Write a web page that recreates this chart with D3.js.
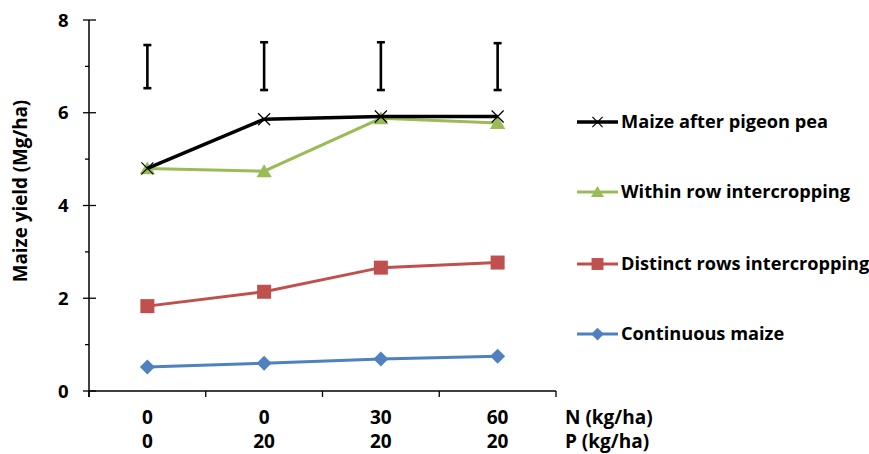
<!DOCTYPE html>
<html><head><meta charset="utf-8">
<script src="https://cdn.jsdelivr.net/npm/d3@7"></script>
<style>body{margin:0;background:#fff}svg{display:block}text{font-family:"Open Sans",sans-serif;font-weight:bold;fill:#000}</style>
</head><body><svg id="c" width="869" height="454"></svg>
<script>
const categories = ["0|0","0|20","30|20","60|20"];
const nLabels = ["0","0","30","60"];
const pLabels = ["0","20","20","20"];
const seriesNames = ["Maize after pigeon pea","Within row intercropping","Distinct rows intercropping","Continuous maize"];
const pigeonPea = [4.8, 5.86, 5.92, 5.92];
const withinRow = [4.8, 4.74, 5.88, 5.78];
const distinctRows = [1.83, 2.14, 2.66, 2.77];
const continuous = [0.52, 0.6, 0.69, 0.75];
const errLow = [6.53, 6.49, 6.49, 6.49];
const errHigh = [7.46, 7.52, 7.52, 7.5];
const yTicks = [0,2,4,6,8];

const colors = ["#000000","#9BBB59","#C0504D","#4F81BD"];
const seriesVals = [pigeonPea, withinRow, distinctRows, continuous];

const svg = d3.select("#c");
const x0 = 89, x1 = 556, yTop = 20, yBot = 391;
const x = d3.scaleBand().domain(categories).range([x0, x1]);
const y = d3.scaleLinear().domain([0,8]).range([yBot, yTop]);
const cx = c => x(c) + x.bandwidth()/2;

// Y axis
const yAx = svg.append("g");
yAx.append("line").attr("x1",x0).attr("x2",x0).attr("y1",yTop).attr("y2",yBot+6).attr("stroke","#000").attr("stroke-width",1.5);
yAx.selectAll(".maj").data(yTicks).join("line").attr("x1",x0-6).attr("x2",x0+7).attr("y1",d=>y(d)).attr("y2",d=>y(d)).attr("stroke","#000").attr("stroke-width",1.3);
yAx.selectAll(".min").data([1,3,5,7]).join("line").attr("x1",x0-4).attr("x2",x0).attr("y1",d=>y(d)).attr("y2",d=>y(d)).attr("stroke","#000").attr("stroke-width",1.3);
yAx.selectAll("text").data(yTicks).join("text").attr("x",68.5).attr("y",d=>y(d)).attr("dy","0.36em").attr("text-anchor","end").attr("font-size",18.5).text(d=>d);
svg.append("text").attr("transform",`translate(27,191) rotate(-90)`).attr("text-anchor","middle").attr("font-size",18.8).text("Maize yield (Mg/ha)");

// X axis
svg.append("line").attr("x1",x0).attr("x2",x1).attr("y1",yBot).attr("y2",yBot).attr("stroke","#000").attr("stroke-width",1.5);
const bounds = categories.map(c=>x(c)).concat([x1]);
svg.selectAll(".xt").data(bounds).join("line").attr("x1",d=>d).attr("x2",d=>d).attr("y1",yBot).attr("y2",yBot+6).attr("stroke","#000").attr("stroke-width",1.3);
svg.selectAll(".nl").data(categories).join("text").attr("x",d=>cx(d)).attr("y",424).attr("text-anchor","middle").attr("font-size",19).text((d,i)=>nLabels[i]);
svg.selectAll(".pl").data(categories).join("text").attr("x",d=>cx(d)).attr("y",448).attr("text-anchor","middle").attr("font-size",19).text((d,i)=>pLabels[i]);
svg.append("text").attr("x",565).attr("y",424).attr("font-size",19).text("N (kg/ha)");
svg.append("text").attr("x",565).attr("y",448).attr("font-size",19).text("P (kg/ha)");

// Error bars
const eb = svg.append("g").attr("stroke","#000").attr("stroke-width",2.6);
categories.forEach((c,i)=>{
  eb.append("line").attr("x1",cx(c)).attr("x2",cx(c)).attr("y1",y(errLow[i])).attr("y2",y(errHigh[i]));
  [errLow[i],errHigh[i]].forEach(v=>eb.append("line").attr("x1",cx(c)-4).attr("x2",cx(c)+4).attr("y1",y(v)).attr("y2",y(v)));
});

const line = d3.line().x((d,i)=>cx(categories[i])).y(d=>y(d));
const widths = [3.5,3,3,3];
function marker(g, i, px, py, k){
  k = k||1;
  if(i===0){
    const s=6*k;
    g.append("path").attr("d",`M${px-s},${py-s}L${px+s},${py+s}M${px-s},${py+s}L${px+s},${py-s}`).attr("stroke","#000").attr("stroke-width",1.2).attr("fill","none");
  } else if(i===1){
    const h=7*k;
    g.append("path").attr("d",`M${px},${py-h}L${px+h*1.1},${py+h*0.85}L${px-h*1.1},${py+h*0.85}Z`).attr("fill",colors[i]);
  } else if(i===2){
    const s=7*k;
    g.append("rect").attr("x",px-s).attr("y",py-s).attr("width",2*s).attr("height",2*s).attr("fill",colors[i]);
  } else {
    const s=7.5*k;
    g.append("path").attr("d",`M${px},${py-s}L${px+s},${py}L${px},${py+s}L${px-s},${py}Z`).attr("fill",colors[i]);
  }
}
[3,2,1,0].forEach(i=>{
  const g = svg.append("g");
  g.append("path").datum(seriesVals[i]).attr("d",line).attr("fill","none").attr("stroke",colors[i]).attr("stroke-width",widths[i]);
  seriesVals[i].forEach((v,j)=>marker(g,i,cx(categories[j]),y(v)));
});

// Legend
const legY = [122,192,264,334];
seriesNames.forEach((n,i)=>{
  const g = svg.append("g");
  g.append("line").attr("x1",577).attr("x2",618).attr("y1",legY[i]).attr("y2",legY[i]).attr("stroke",colors[i]).attr("stroke-width",widths[i]);
  marker(g,i,597.5,legY[i],0.85);
  g.append("text").attr("x",621).attr("y",legY[i]).attr("dy","0.35em").attr("font-size",18.2).text(n);
});
</script></body></html>
